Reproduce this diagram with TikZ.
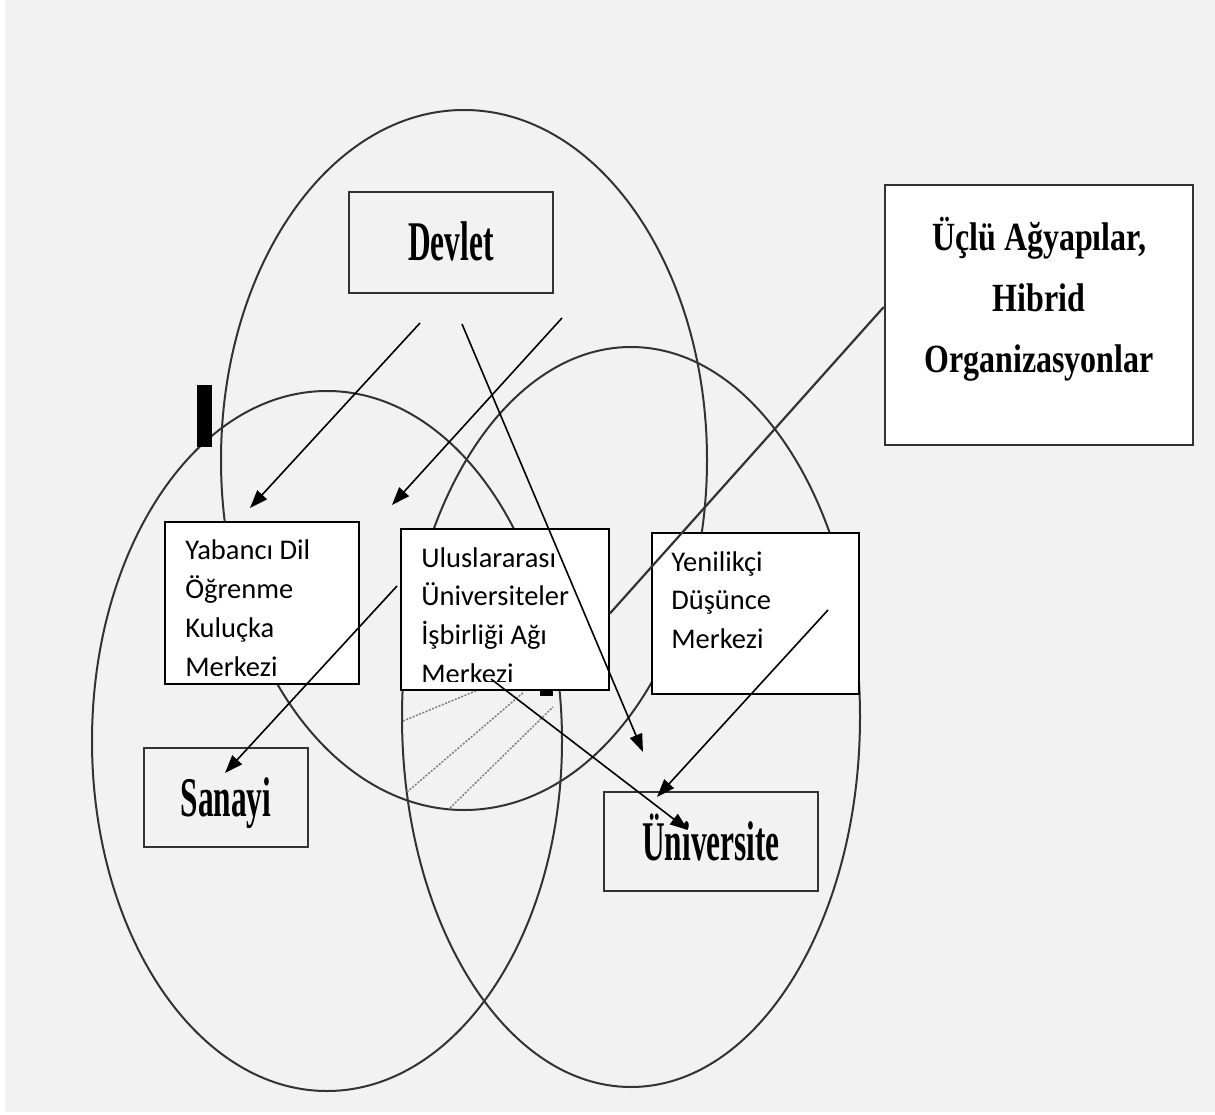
\documentclass[tikz,border=0pt]{standalone}
\usepackage{fontspec}
\usetikzlibrary{arrows.meta}

\newfontfamily\labelfont[FakeStretch=0.56]{Liberation Serif}
\newfontfamily\titlefont[FakeStretch=0.8]{Liberation Serif}
\newfontfamily\boxfont{Carlito}

\definecolor{paper}{HTML}{F2F2F2}
\definecolor{rim}{HTML}{333333}

\tikzset{
  bigbox/.style={draw=rim, line width=2.5pt, inner sep=0pt},
  smallbox/.style={draw, fill=white, line width=1.8pt, inner sep=0pt},
  boxtext/.style={anchor=base west, inner sep=0pt, font=\boxfont\fontsize{28.5}{38.8}\selectfont}
}

\begin{document}
\begin{tikzpicture}[x=1pt,y=-1pt]

      \useasboundingbox (0,0) rectangle (1215,1115);
      \fill[white] (0,0) rectangle (1215,1115);
      \fill[paper] (5,0) rectangle (1215,1112);

      % government, industry, university
      \begin{scope}[rim, line width=2pt]
        \draw (464,460) ellipse [x radius=243, y radius=350];
        \draw (327,741) ellipse [x radius=235, y radius=350];
        \draw (631,717) ellipse [x radius=229, y radius=370];
      \end{scope}

      \begin{scope}[gray, line width=1.5pt, dash pattern=on 2pt off 1.5pt]
        \draw (403,721) -- (478,690);
        \draw (407,792) -- (524,692);
        \draw (450,808) -- (553,707);
      \end{scope}
      \fill (540,691) rectangle (553,696);
      \fill (197,385) rectangle (212,447);

      \begin{scope}[every node/.style={bigbox, text height=37pt, text depth=0pt,
          font=\labelfont\bfseries\fontsize{56}{60}\selectfont}]
        \node[minimum width=204pt, minimum height=101pt] (1) at (451,242.5) {Devlet};
        \node[minimum width=164pt, minimum height=99pt]  (2) at (226,797.5) {Sanayi};
        \node[minimum width=214pt, minimum height=99pt]  (3) at (711,841.5) {Üniversite};
      \end{scope}

      \node[bigbox, fill=white, minimum width=308pt, minimum height=260pt] (4) at (1039,315) {};
      \node[align=center, font=\titlefont\bfseries\fontsize{40}{61}\selectfont]
        at ([yshift=16pt]4.center) {Üçlü Ağyapılar,\\Hibrid\\Organizasyonlar};

      \begin{scope}[every node/.style={smallbox}]
        \node[minimum width=194pt, minimum height=162pt] (5) at (262,603) {};
        \node[minimum width=208pt, minimum height=161pt] (6) at (505,609.5) {};
        \node[minimum width=207pt, minimum height=161pt] (7) at (755.5,613.5) {};
      \end{scope}

      \begin{scope}
        \clip (5.north west) rectangle ([yshift=9pt]5.south east);
        \node[boxtext] at ([xshift=21pt,yshift=-38.5pt]5.north west)
          {\begin{tabular}[t]{@{}l@{}}Yabancı Dil\\Öğrenme\\Kuluçka\\Merkezi\end{tabular}};
      \end{scope}
      \begin{scope}
        \clip (6.north west) rectangle ([yshift=9pt]6.south east);
        \node[boxtext] at ([xshift=21pt,yshift=-39pt]6.north west)
          {\begin{tabular}[t]{@{}l@{}}Uluslararası\\Üniversiteler\\İşbirliği Ağı\\Merkezi\end{tabular}};
      \end{scope}
      \node[boxtext] at ([xshift=20pt,yshift=-39pt]7.north west)
        {\begin{tabular}[t]{@{}l@{}}Yenilikçi\\Düşünce\\Merkezi\end{tabular}};

      \draw[rim, line width=2.2pt] ([yshift=8pt]4.west) -- ([yshift=-4pt]6.east);

      % arrow ends
      \coordinate (8)  at (420,323);  \coordinate (9)  at (250,508);
      \coordinate (10) at (562,318);  \coordinate (11) at (392,505);
      \coordinate (12) at (462,324);  \coordinate (13) at (643,752);
      \coordinate (14) at (397,586);  \coordinate (15) at (225,773);
      \coordinate (16) at (491,679);  \coordinate (17) at (688,830);
      \coordinate (18) at (828,610);  \coordinate (19) at (657,797);

      \begin{scope}[every edge/.style={draw, line width=1.6pt, -{Triangle[length=18pt,width=13pt]}}]
        \path (8)  edge (9);
        \path (10) edge (11);
        \path (12) edge (13);
        \path (14) edge (15);
        \path (16) edge (17);
        \path (18) edge (19);
      \end{scope}

    \end{tikzpicture}
\end{document}
